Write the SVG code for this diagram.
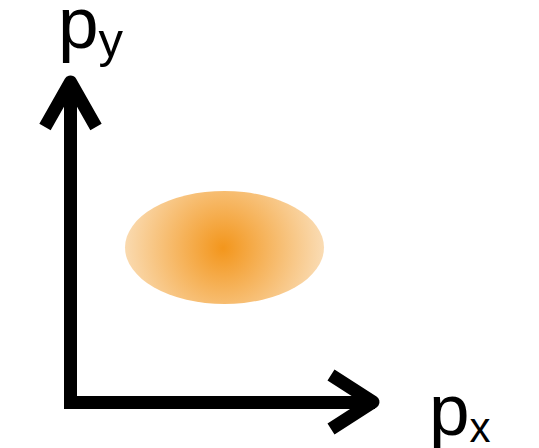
<svg xmlns="http://www.w3.org/2000/svg" width="539" height="448" viewBox="0 0 539 448">
<style>
.ax{fill:none;stroke:#000;stroke-width:13}
.lbl{font-family:"Liberation Sans",Arial,sans-serif;fill:#000}
</style>
<defs>
<radialGradient id="g" gradientUnits="userSpaceOnUse" cx="223" cy="248" r="101">
<stop offset="0" stop-color="#f3961c"/>
<stop offset="1" stop-color="#fadcb4"/>
</radialGradient>
</defs>
<rect width="539" height="448" fill="#fff"/>
<g id="blob">
<ellipse cx="224.5" cy="247.5" rx="99.5" ry="56.5" fill="url(#g)"/>
</g>
<g id="connectors">
<path class="ax" d="M70.5,84 L70.5,402.5 L375,402.5" stroke-linejoin="miter"/>
<path class="ax" d="M45,127 L70.5,82 L96,127" stroke-linejoin="round"/>
<path class="ax" d="M331,375 L373,402 L331,429" stroke-linejoin="round"/>
</g>
<g id="label-py">
<text class="lbl" x="58" y="48" font-size="73">p<tspan font-size="49" dy="9">y</tspan></text>
</g>
<g id="label-px">
<text class="lbl" x="429" y="435" font-size="73">p<tspan font-size="42" dy="7">x</tspan></text>
</g>
</svg>
